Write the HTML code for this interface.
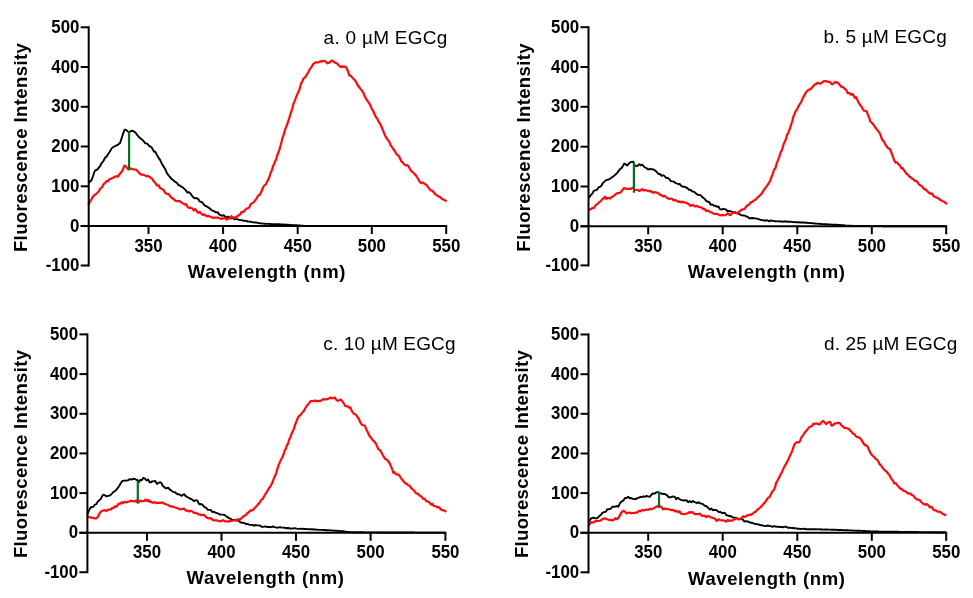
<!DOCTYPE html><html><head><meta charset="utf-8"><style>html,body{margin:0;padding:0;background:#fff;}svg{display:block;filter:blur(0.3px);}text{font-family:"Liberation Sans", sans-serif;}</style></head><body>
<svg width="973" height="598" viewBox="0 0 973 598">
<rect width="973" height="598" fill="#fff"/>
<g><path d="M89.2 182.5 L90.2 181.4 L91.5 180.3 L92.5 177.5 L93.5 174.8 L94.3 172.1 L95.2 170.4 L96.6 170 L98 168.7 L100.1 166.1 L101.3 163.8 L102.6 162 L103.7 160.5 L105.1 157.6 L106.6 156.7 L108.3 153.8 L110.1 151.3 L111.5 148.6 L113 147.2 L114.5 146.5 L115.9 145.6 L117.5 145.1 L118.8 144 L120.1 142.9 L121.2 139.5 L122.2 136.5 L123.1 133.6 L124.4 130 L125.5 129.6 L127.6 131.2 L129.3 132.4 L130.9 131 L132.7 130.8 L134.3 131.8 L136 133.3 L137.3 135.2 L138.7 136.8 L140.2 138.2 L141.9 139.4 L143.6 141.1 L145.2 143.3 L146.9 143.4 L148.5 145.2 L149.8 146.5 L151.3 146.9 L152.7 149.3 L154.1 151.7 L155.4 151.8 L156.9 154.9 L158.5 157.6 L160.2 160.1 L161.9 163.8 L163.6 166.6 L165.2 169 L166.9 173.2 L168.6 175.3 L170.3 177.3 L172 179.3 L173.7 180.6 L175.5 182.2 L177 182.9 L178.3 185 L180 185.6 L181.2 186.6 L182.7 187.4 L184.3 188.9 L185.9 190.4 L187.5 192.7 L189 192.1 L190.5 193.6 L192.1 195.8 L193.6 197.6 L195.1 198.3 L196.6 198.1 L198.1 198.8 L199.6 201.4 L201.1 201.9 L202.6 202.7 L204.1 204.9 L205.6 206 L207.1 206.6 L208.6 207.6 L210.1 208.7 L211.6 210.3 L213.1 210.7 L214.7 211.6 L216.2 212.5 L217.7 212.1 L219.2 214.5 L220.7 215.2 L222.2 215.8 L223.7 215.1 L225.2 216.5 L226.7 217.7 L228.2 216.6 L229.7 217.7 L231.2 218.5 L232.7 217.7 L234.2 219.3 L235.7 219.1 L237.2 219.1 L238.7 219.6 L240.2 220 L241.7 220.1 L243.2 220.7 L244.8 220.6 L246.3 220.9 L247.8 221.5 L249.3 221.6 L250.8 221.7 L252.3 222.2 L253.8 222.4 L255.3 222.5 L256.8 222.6 L258.3 223 L259.8 223.2 L261.3 223.4 L262.8 223.6 L264.2 223.7 L265.5 223.8 L266.8 223.9 L268.4 223.9 L270.4 224 L271.6 224.1 L272.9 224.1 L274.4 224.2 L275.9 224.2 L277.5 224.3 L279.1 224.3 L280.7 224.4 L282.3 224.5 L283.9 224.5 L285.4 224.6 L286.9 224.7 L288.3 224.8 L289.6 224.9 L291 225 L292.4 225.1 L293.8 225.2 L295.2 225.2 L296.7 225.3 L298.3 225.4 L300 225.5 L301.1 225.6 L301.7 225.6 L302.1 225.7 L302.3 225.7 L302.5 225.7 L302.8 225.8 L303.4 225.8 L304.3 225.9 L305.9 225.9 L308 225.9 L311 226 L315 226 L320 226 L320.9 226 L321.8 226 L322.8 226 L323.8 226 L324.9 226 L326 226 L327.2 226 L328.4 226 L329.6 226 L330.9 226 L332.2 226 L333.5 226 L334.9 226 L336.3 226 L337.8 226 L339.2 226 L340.7 226 L342.3 226 L343.8 226 L345.4 226 L347 226 L348.6 226 L350.3 226 L351.9 226 L353.6 226 L355.3 226 L357.1 226 L358.8 226 L360.6 226 L362.3 226 L364.1 226 L365.9 226 L367.7 226 L369.5 226 L371.4 226 L373.2 226 L375 226 L376.9 226 L378.7 226 L380.6 226 L382.4 226 L384.2 226 L386.1 226 L387.9 226 L389.8 226 L391.6 226 L393.4 226 L395.3 226 L397.1 226 L398.9 226 L400.7 226 L402.4 226 L404.2 226 L406 226 L407.7 226 L409.4 226 L411.1 226 L412.8 226 L414.5 226 L416.1 226 L417.7 226 L419.3 226 L420.9 226 L422.4 226 L423.9 226 L425.4 226 L426.9 226 L428.3 226 L429.7 226 L431.1 226 L432.4 226 L433.7 226 L434.9 226 L436.2 226 L437.3 226 L438.5 226 L439.6 226 L440.6 226 L441.6 226 L442.6 226 L443.5 226 L444.4 226 L445.2 226 L446 226" fill="none" stroke="#000" stroke-width="1.9" stroke-linejoin="round"/><path d="M88.3 205.3 L89.7 202.3 L91.5 199.3 L93.3 196.1 L95.2 194.6 L97.1 193 L98.9 191.3 L100.4 188.3 L102.1 187.2 L103.4 184.3 L105 183.1 L106.6 181 L108.1 181.3 L109.5 179 L110.9 178.9 L112.2 178.1 L113.6 177.5 L115 176.5 L116.5 176.4 L117.9 176.6 L119.1 174.7 L121.2 172.3 L122.8 169.8 L124.2 165.9 L125.3 165.7 L126.5 167.1 L127.8 169 L129.2 168.3 L130.9 168.6 L132.9 169.3 L134.4 169.5 L136 169.7 L137.5 171 L139.3 173.1 L141.2 174.6 L142.7 174.7 L144.3 175.1 L146 176.1 L147.7 175.9 L149.3 176.7 L151.1 178.1 L152.5 179.1 L154 181.7 L155.5 183 L156.9 185.4 L158.6 185.4 L160.1 188.1 L161.9 189 L163.5 189.7 L165.1 192.7 L166.9 193.7 L168.6 194.1 L170.3 196.2 L172.1 198.3 L173.8 199.1 L175.3 200.7 L176.9 201.1 L178.3 201 L180 201.2 L181.3 202.5 L182.8 203.2 L184.4 204.3 L185.9 204.1 L187.5 206.8 L189 207.9 L190.5 207.7 L192.1 208.3 L193.6 210.3 L195.1 209 L196.6 211 L198.1 212.9 L199.6 211.8 L201.1 213.5 L202.6 214.8 L204.1 214.4 L205.6 215.5 L207.1 216.3 L208.6 215.8 L210.1 216.8 L211.6 217.3 L213.2 217.9 L214.8 217.6 L216.3 217.7 L217.7 217.5 L219.3 218.1 L220.7 218.9 L222.1 218.6 L223.7 218.2 L225.1 218.1 L226.7 219.6 L228.2 218.7 L229.8 218.2 L231.2 216.2 L232.8 217.7 L234.3 217.3 L235.7 217.6 L237.2 216.3 L238.7 215.1 L240.2 214.3 L241.8 211.7 L243.3 212.1 L244.8 210.4 L246.3 208.6 L247.8 208.4 L249.3 207.3 L250.8 204.1 L252.3 203.1 L253.8 202.1 L255.3 200.3 L256.8 198 L258.3 195.4 L259.8 194.8 L261.3 191.8 L262.8 188 L264.4 185.3 L265.9 184.3 L267.3 181.2 L268.6 179.1 L269.7 175.9 L270.8 172.4 L271.9 170.2 L273.1 165.9 L274.3 163.5 L275.4 160.8 L276.4 158.4 L277.4 155 L278.2 153 L279.2 150.3 L280 147.6 L280.8 144.8 L281.7 141.3 L282.5 137.9 L283.4 135.6 L284.4 132.1 L285.4 128.8 L286.5 126.1 L287.5 123.5 L288.6 120.2 L289.6 116.9 L290.7 113.4 L291.7 110.3 L292.6 107.2 L293.4 103.8 L294.2 102.1 L295.1 99.9 L296.4 96.4 L297.8 93.1 L299.2 90.3 L300.2 86.8 L301.2 83.4 L302.3 81.6 L303.4 78.7 L305.1 77.4 L306.8 74.7 L308.4 72 L310 68.9 L311.5 66.8 L313.2 64.1 L315.1 62.6 L316.5 62.3 L317.9 62.5 L319.3 62 L320.7 61.2 L322.1 61.4 L323.5 60.8 L324.9 61 L326.3 62.3 L327.7 63.4 L329 62.7 L330.4 61.9 L331.8 60.4 L333.5 61.4 L335.2 62.8 L336.9 63.2 L338.3 65.2 L339.7 66.2 L341 67.2 L342.4 66.3 L343.8 67 L345.2 66.6 L346.6 68 L348 71.4 L349.4 75.6 L350.8 75.6 L352.2 77.4 L353.6 78.9 L355 80.5 L356.3 82.3 L357.7 85.2 L359.1 87 L360.5 88.9 L361.9 90.5 L363.3 92.7 L364.7 96.2 L366.1 98.8 L367.5 100.9 L368.9 102.9 L370.3 105.1 L371.7 108.5 L373.1 110.7 L374.5 114 L375.8 116.9 L377.2 118.4 L378.6 121.7 L380.4 124.2 L382.2 128.5 L383.7 132.2 L385.4 136.3 L386.6 138 L388 140.3 L389.4 141.9 L390.8 145.8 L392.1 147 L393.4 149.3 L395.1 151.4 L396.7 154.6 L398.4 155.4 L400.1 158.5 L401.3 161.3 L402.7 162.4 L404.1 164.4 L405.8 165.4 L407.4 165.1 L408.8 166.7 L410 169.1 L411.4 171.2 L412.9 172.1 L414.6 174.1 L416.1 175.6 L417.4 177.8 L418.7 180 L420.1 182.3 L421.4 183.1 L422.7 182.5 L424.1 183.6 L425.5 184.2 L426.8 185.4 L428.2 187.4 L429.5 188.9 L430.8 190.5 L432.1 190.6 L433.5 192 L434.9 193.8 L436.2 194.8 L437.5 195.7 L438.9 196.6 L440.2 197 L441.5 198.6 L443.4 199.5 L445.3 200.4 L446.6 201.2" fill="none" stroke="#ff0a0a" stroke-width="2.2" stroke-linejoin="round"/><line x1="129.1" y1="131.5" x2="129.1" y2="170.5" stroke="#0a6e1e" stroke-width="2.2"/><line x1="88.7" y1="26.3" x2="88.7" y2="266.5" stroke="#000" stroke-width="2"/><line x1="80.7" y1="226" x2="447.2" y2="226" stroke="#000" stroke-width="2"/><line x1="80.7" y1="265.5" x2="88.7" y2="265.5" stroke="#000" stroke-width="2"/><text x="45.7" y="271.1" font-size="18.9" font-weight="bold" textLength="33.7" lengthAdjust="spacingAndGlyphs">-100</text><line x1="80.7" y1="226" x2="88.7" y2="226" stroke="#000" stroke-width="2"/><text x="70" y="231.6" font-size="18.9" font-weight="bold" textLength="9.4" lengthAdjust="spacingAndGlyphs">0</text><line x1="80.7" y1="186.3" x2="88.7" y2="186.3" stroke="#000" stroke-width="2"/><text x="51.3" y="191.9" font-size="18.9" font-weight="bold" textLength="28.1" lengthAdjust="spacingAndGlyphs">100</text><line x1="80.7" y1="146.5" x2="88.7" y2="146.5" stroke="#000" stroke-width="2"/><text x="51.3" y="152.1" font-size="18.9" font-weight="bold" textLength="28.1" lengthAdjust="spacingAndGlyphs">200</text><line x1="80.7" y1="106.8" x2="88.7" y2="106.8" stroke="#000" stroke-width="2"/><text x="51.3" y="112.4" font-size="18.9" font-weight="bold" textLength="28.1" lengthAdjust="spacingAndGlyphs">300</text><line x1="80.7" y1="67" x2="88.7" y2="67" stroke="#000" stroke-width="2"/><text x="51.3" y="72.6" font-size="18.9" font-weight="bold" textLength="28.1" lengthAdjust="spacingAndGlyphs">400</text><line x1="80.7" y1="27.3" x2="88.7" y2="27.3" stroke="#000" stroke-width="2"/><text x="51.3" y="32.9" font-size="18.9" font-weight="bold" textLength="28.1" lengthAdjust="spacingAndGlyphs">500</text><line x1="148.5" y1="226" x2="148.5" y2="234" stroke="#000" stroke-width="2"/><text x="134.5" y="251.6" font-size="18.9" font-weight="bold" textLength="28.1" lengthAdjust="spacingAndGlyphs">350</text><line x1="223.1" y1="226" x2="223.1" y2="234" stroke="#000" stroke-width="2"/><text x="209.1" y="251.6" font-size="18.9" font-weight="bold" textLength="28.1" lengthAdjust="spacingAndGlyphs">400</text><line x1="297.7" y1="226" x2="297.7" y2="234" stroke="#000" stroke-width="2"/><text x="283.7" y="251.6" font-size="18.9" font-weight="bold" textLength="28.1" lengthAdjust="spacingAndGlyphs">450</text><line x1="371.8" y1="226" x2="371.8" y2="234" stroke="#000" stroke-width="2"/><text x="357.8" y="251.6" font-size="18.9" font-weight="bold" textLength="28.1" lengthAdjust="spacingAndGlyphs">500</text><line x1="446.2" y1="226" x2="446.2" y2="234" stroke="#000" stroke-width="2"/><text x="432.2" y="251.6" font-size="18.9" font-weight="bold" textLength="28.1" lengthAdjust="spacingAndGlyphs">550</text><text transform="translate(27.4 252.1) rotate(-90)" x="0" y="0" font-size="18.5" font-weight="bold" textLength="208.9" lengthAdjust="spacing">Fluorescence Intensity</text><text x="187.8" y="277.7" font-size="18.5" font-weight="bold" textLength="157.7" lengthAdjust="spacing">Wavelength (nm)</text><text x="323.6" y="43.9" font-size="19" textLength="123.8" lengthAdjust="spacing">a. 0 µM EGCg</text></g>
<g><path d="M588.8 198 L590.4 195.6 L592.5 193.3 L593.9 190.6 L595.5 190.4 L597 189.7 L598.5 187.4 L600.1 186.9 L601.6 185.3 L603.1 182.8 L604.5 181.6 L606.1 180.1 L607.5 179.8 L609 179.3 L610.6 178.4 L612.1 177.1 L613.5 176.4 L614.8 175.1 L616.1 174.1 L617.4 172.6 L619 170.4 L620.6 168.6 L621.9 167.7 L624.1 163.7 L625.6 164.2 L627.2 165.5 L628.7 163.8 L630.2 162.4 L631.7 161.9 L633.2 161.6 L634.7 165.4 L636.2 166.1 L637.6 165.9 L639.2 164.2 L640.6 165.3 L642.1 164.5 L643.7 166.4 L645.1 167.5 L646.6 168.2 L648.2 169.6 L649.7 168.7 L651.2 169.4 L652.9 169.3 L654.3 169.9 L655.8 171 L657.1 172.3 L658.8 174.2 L660.1 174 L661.7 175.8 L663.3 175.1 L664.8 176.4 L666.3 178.1 L667.9 177.8 L669.3 179.2 L670.7 181 L672.3 181.4 L673.7 181.6 L675.2 182.8 L676.8 183.5 L678.4 184.2 L679.9 184 L681.4 186.1 L682.9 186.7 L684.4 186.6 L685.9 187.5 L687.4 188 L688.9 189.9 L690.5 189.6 L692 191.3 L693.5 191.6 L694.9 192.3 L696.5 193.9 L698 194.9 L699.5 194.9 L700.9 195.3 L702.3 197.2 L703.5 197.8 L704.8 199.1 L706.2 200.9 L707.7 201.8 L709.2 202 L710.7 204.7 L712.3 204.4 L713.8 205.7 L715.4 205.7 L716.9 206.8 L718.5 206.5 L720 209.2 L721.5 209.6 L723.1 208.8 L724.7 209.2 L726.1 209.5 L727.6 211.4 L729.1 210.8 L730.6 211.4 L732.1 211.6 L733.5 212.2 L734.9 212.1 L736.4 213.2 L737.9 213 L739.5 214.3 L740.8 214.9 L742 215.4 L743.4 215.5 L744.8 215.6 L746.2 216.6 L747.7 216.7 L749.3 218.3 L750.7 218.2 L752.2 218 L753.8 218.2 L755.3 218.4 L756.9 218.6 L758.5 219.1 L760.1 219.7 L761.7 220 L763.2 220.2 L764.8 220.9 L766.3 220.2 L767.9 220.6 L769.4 221.5 L770.9 220.3 L772.5 220.8 L774 221.1 L775.5 221.2 L777.1 221.4 L778.6 221.3 L780.1 221.5 L781.7 221.5 L783.2 221.7 L784.8 221.3 L786.3 221.5 L787.8 221.8 L789.4 221.7 L790.9 221.7 L792.5 222.1 L794.1 222 L795.6 222.2 L797.2 222.3 L798.7 222.3 L800.3 222.5 L801.9 222.5 L803.5 222.4 L805.1 222.7 L806.6 222.8 L808.2 222.9 L809.6 223 L811 223.1 L812.6 223.2 L813.8 223.4 L815 223.5 L816.3 223.6 L817.9 223.7 L820 223.9 L821.2 224 L822.5 224.1 L823.9 224.1 L825.3 224.2 L826.9 224.3 L828.5 224.4 L830.1 224.5 L831.8 224.6 L833.5 224.7 L835.2 224.7 L836.8 224.8 L838.4 224.9 L840 225 L841.4 225.1 L842.4 225.2 L843.3 225.3 L844 225.3 L844.7 225.4 L845.4 225.5 L846.4 225.6 L847.5 225.7 L849 225.7 L850.9 225.8 L853.3 225.9 L856.3 225.9 L860 226 L861 226 L862 226 L863.1 226 L864.2 226 L865.4 226.1 L866.7 226.1 L868 226.1 L869.4 226.1 L870.8 226.1 L872.2 226.1 L873.7 226.1 L875.3 226.1 L876.9 226.1 L878.5 226.1 L880.1 226.1 L881.8 226.1 L883.5 226.2 L885.2 226.2 L887 226.2 L888.7 226.2 L890.5 226.2 L892.3 226.2 L894.1 226.2 L896 226.2 L897.8 226.2 L899.6 226.2 L901.5 226.2 L903.3 226.2 L905.2 226.2 L907 226.2 L908.8 226.2 L910.7 226.2 L912.5 226.2 L914.3 226.2 L916 226.2 L917.8 226.2 L919.5 226.2 L921.3 226.2 L922.9 226.3 L924.6 226.3 L926.2 226.3 L927.8 226.3 L929.4 226.3 L930.9 226.3 L932.4 226.3 L933.8 226.3 L935.2 226.3 L936.5 226.3 L937.8 226.3 L939.1 226.3 L940.2 226.3 L941.4 226.3 L942.4 226.3 L943.4 226.3 L944.3 226.3 L945.2 226.3 L946 226.3" fill="none" stroke="#000" stroke-width="1.9" stroke-linejoin="round"/><path d="M588 210 L589.2 209.8 L590.8 209.1 L592.5 208 L594 208 L595.4 205.5 L597 204.1 L598.3 203.4 L599.6 201.8 L601 201.3 L602.3 198.8 L603.6 198.7 L604.9 196.7 L606.3 198.8 L607.6 197.8 L608.9 198.2 L610.3 198.5 L611.6 197 L612.9 196.4 L614.5 195.3 L616 193.9 L617.4 193.1 L619.3 193 L621.1 191.9 L622.5 189.9 L624.1 188.1 L625.5 188.7 L627.1 188.9 L628.7 188.8 L630.2 189 L631.7 188.2 L633.2 187.6 L634.6 189.6 L636 190 L637.7 189.9 L639 191 L640.6 190.4 L642.2 189 L643.7 190.6 L645.2 189.9 L646.8 190.6 L648.3 190.9 L649.7 191.4 L651.2 191.1 L652.7 192.7 L654.2 192.3 L655.8 192.2 L657.3 192.9 L658.8 193.5 L660.2 194.9 L661.7 195.4 L663.3 196.5 L664.7 195.9 L666.2 197.3 L667.7 198.3 L669.3 199 L670.8 198.5 L672.3 199.1 L673.7 200.5 L675.2 199.9 L676.7 200.9 L678.3 201.9 L679.7 201.4 L681.3 202.4 L682.8 201.7 L684.4 202.5 L686 202.7 L687.4 203.3 L689 204.4 L690.6 205.8 L692.1 204.8 L693.6 205.4 L694.9 206.5 L696.7 205.9 L698.3 206.8 L700 207.2 L701.5 207.5 L703 208.9 L704.6 208.8 L706.2 211 L707.7 210.5 L709.3 211.6 L710.8 212.2 L712.3 212.8 L713.9 213.9 L715.5 213.8 L717 213.8 L718.5 214.6 L720.2 215.5 L721.7 214.9 L723.4 215.1 L724.8 215.4 L726.3 214.6 L727.9 213.3 L729.6 215.1 L731 214.7 L732.5 212.2 L734.1 213 L735.6 213 L737 212.9 L738.6 212.2 L740.2 210.9 L741.7 209.7 L743.2 209.4 L744.7 208.8 L746.3 206.4 L747.8 205.1 L749.3 204.4 L750.9 202.1 L752.5 201.8 L754 200.4 L755.5 199.7 L757.2 197.8 L758.8 196.4 L760.4 195 L762.1 193 L763.7 190.1 L765.4 187.8 L767.1 185.6 L768.8 183.1 L770.3 180.6 L771.7 176.4 L772.9 173.7 L774 169.7 L775.3 168.7 L776.7 163.2 L777.8 160.6 L779.1 157.4 L780.5 152.8 L781.7 150.5 L782.8 147.1 L783.9 143.2 L784.9 141.5 L785.9 139.2 L787 134.8 L788 133.7 L789.1 130.7 L790.1 128 L791.1 124.6 L792.2 121.5 L793.2 117.2 L794.2 114.8 L795.6 111.2 L797 109.5 L798.4 106.4 L799.8 104 L801.1 102.1 L802.6 98.6 L804.2 95.6 L806 92.4 L807.6 90.5 L809.1 89.6 L810.4 89.1 L811.8 87.8 L813.2 86.4 L814.6 84.5 L816 84.1 L817.4 82.9 L818.7 83.1 L820.1 83.9 L821.5 82.8 L822.9 81.8 L824.3 81.1 L825.7 81.1 L827.1 81.7 L828.5 81.9 L829.9 81.9 L831.4 83.9 L832.7 84.3 L834.4 82.4 L836 82.2 L837.3 82.3 L838.8 83.6 L840.2 85.5 L841.6 86.9 L842.9 86.8 L844.4 88.6 L846 89.6 L847.8 93.2 L849.4 93.1 L850.9 94.7 L852.2 94 L853.6 95.5 L855 97.9 L856.3 97.4 L857.7 100.7 L859.1 103.4 L860.4 105.4 L861.9 107.2 L863.6 110.5 L865.3 110.8 L866.9 111.7 L868.1 115.7 L869.1 117.3 L870.3 121.6 L871.8 122.7 L873.6 124.9 L875.3 127.5 L877.1 129.6 L878.8 131.8 L880.3 134.3 L881.6 138.4 L882.7 140.4 L883.9 141.4 L885.3 144.4 L886.7 146.3 L888.2 148.4 L889.9 149 L891.4 152.5 L892.8 156.4 L894 159.7 L895.4 162.6 L896.9 162.2 L898.5 164.4 L900.1 165.7 L901.4 168.3 L902.7 168.1 L904.1 170.3 L905.4 172.1 L906.7 174.1 L908.1 174.7 L909.5 176.9 L910.8 177.1 L912.1 178.7 L913.4 179.3 L914.8 180.6 L916.1 181.1 L917.4 181.7 L918.8 184.4 L920.2 185.2 L921.5 185.9 L922.8 187.5 L924.1 189.1 L925.5 189.2 L926.8 190.7 L928.1 192.1 L929.4 193.1 L930.8 193.6 L932.2 193.6 L933.8 196.5 L935.4 196.9 L937.1 197.8 L938.9 198.7 L940.5 200.1 L942.4 201 L944.2 201.8 L945.8 203.1 L946.9 204.2" fill="none" stroke="#ff0a0a" stroke-width="2.2" stroke-linejoin="round"/><line x1="633.9" y1="162.6" x2="633.9" y2="192.7" stroke="#0a6e1e" stroke-width="2.2"/><line x1="588.5" y1="26.2" x2="588.5" y2="266.4" stroke="#000" stroke-width="2"/><line x1="580.5" y1="226.3" x2="947.2" y2="226.3" stroke="#000" stroke-width="2"/><line x1="580.5" y1="265.4" x2="588.5" y2="265.4" stroke="#000" stroke-width="2"/><text x="545.5" y="271" font-size="18.9" font-weight="bold" textLength="33.7" lengthAdjust="spacingAndGlyphs">-100</text><line x1="580.5" y1="226.3" x2="588.5" y2="226.3" stroke="#000" stroke-width="2"/><text x="569.8" y="231.9" font-size="18.9" font-weight="bold" textLength="9.4" lengthAdjust="spacingAndGlyphs">0</text><line x1="580.5" y1="186.5" x2="588.5" y2="186.5" stroke="#000" stroke-width="2"/><text x="551.1" y="192.1" font-size="18.9" font-weight="bold" textLength="28.1" lengthAdjust="spacingAndGlyphs">100</text><line x1="580.5" y1="146.7" x2="588.5" y2="146.7" stroke="#000" stroke-width="2"/><text x="551.1" y="152.3" font-size="18.9" font-weight="bold" textLength="28.1" lengthAdjust="spacingAndGlyphs">200</text><line x1="580.5" y1="106.8" x2="588.5" y2="106.8" stroke="#000" stroke-width="2"/><text x="551.1" y="112.4" font-size="18.9" font-weight="bold" textLength="28.1" lengthAdjust="spacingAndGlyphs">300</text><line x1="580.5" y1="67" x2="588.5" y2="67" stroke="#000" stroke-width="2"/><text x="551.1" y="72.6" font-size="18.9" font-weight="bold" textLength="28.1" lengthAdjust="spacingAndGlyphs">400</text><line x1="580.5" y1="27.2" x2="588.5" y2="27.2" stroke="#000" stroke-width="2"/><text x="551.1" y="32.8" font-size="18.9" font-weight="bold" textLength="28.1" lengthAdjust="spacingAndGlyphs">500</text><line x1="648.2" y1="226.3" x2="648.2" y2="234.3" stroke="#000" stroke-width="2"/><text x="634.2" y="251.9" font-size="18.9" font-weight="bold" textLength="28.1" lengthAdjust="spacingAndGlyphs">350</text><line x1="722.7" y1="226.3" x2="722.7" y2="234.3" stroke="#000" stroke-width="2"/><text x="708.7" y="251.9" font-size="18.9" font-weight="bold" textLength="28.1" lengthAdjust="spacingAndGlyphs">400</text><line x1="797.3" y1="226.3" x2="797.3" y2="234.3" stroke="#000" stroke-width="2"/><text x="783.3" y="251.9" font-size="18.9" font-weight="bold" textLength="28.1" lengthAdjust="spacingAndGlyphs">450</text><line x1="871.8" y1="226.3" x2="871.8" y2="234.3" stroke="#000" stroke-width="2"/><text x="857.8" y="251.9" font-size="18.9" font-weight="bold" textLength="28.1" lengthAdjust="spacingAndGlyphs">500</text><line x1="946.2" y1="226.3" x2="946.2" y2="234.3" stroke="#000" stroke-width="2"/><text x="932.2" y="251.9" font-size="18.9" font-weight="bold" textLength="28.1" lengthAdjust="spacingAndGlyphs">550</text><text transform="translate(530 251.7) rotate(-90)" x="0" y="0" font-size="18.5" font-weight="bold" textLength="208.2" lengthAdjust="spacing">Fluorescence Intensity</text><text x="687.7" y="277.6" font-size="18.5" font-weight="bold" textLength="157.2" lengthAdjust="spacing">Wavelength (nm)</text><text x="823.6" y="43.4" font-size="19" textLength="123.3" lengthAdjust="spacing">b. 5 µM EGCg</text></g>
<g><path d="M87.3 514.9 L88.4 511.7 L90 508.5 L91.4 506.9 L93.1 507 L94.7 504.8 L96.3 504.2 L97.9 501.4 L99.4 500.3 L100.8 498.9 L102 496.3 L103.4 494.6 L104.9 495.3 L106.5 496.5 L108.1 495.8 L109.7 495.6 L111.2 494.5 L112.8 492.5 L114.3 491.4 L115.9 490.2 L117.4 488.5 L119 486.3 L120.5 483.6 L122.1 481.2 L123.6 480.7 L125.2 480.6 L126.8 480.5 L128.1 480.3 L129.5 479.1 L130.9 479.5 L132.2 479.4 L133.6 478.7 L134.9 479.2 L136.2 479.7 L137.5 480 L138.8 482.2 L140.2 480 L141.7 480.3 L143.3 477.9 L144.9 478.6 L146.5 480.5 L148.1 479.5 L149.6 482.2 L151 482.3 L152.3 481.2 L153.6 481.4 L155.3 481 L156.9 483.9 L158.6 482.8 L160.3 482.1 L161.5 483.2 L162.8 486 L164.3 487.1 L165.5 488.2 L166.8 488.2 L168.1 487.6 L169.6 489.4 L171.2 490.4 L172.9 491.9 L174.7 492.1 L176.3 493.4 L177.7 494.3 L179.1 494.3 L180.4 495.2 L181.7 495.9 L183 494.6 L184.3 494.2 L185.7 496.1 L187 496.9 L188.3 497.5 L189.7 498.5 L191.1 498.9 L192.4 499.7 L193.8 501.1 L195.2 500.4 L196.6 500.2 L197.7 501 L198.8 503.6 L200 504.4 L201.3 504 L202.9 505.3 L204.6 507.2 L206.2 507.8 L207.7 509.8 L209.2 509.9 L210.8 510 L212.3 512 L213.8 511.6 L215.4 512.7 L216.9 513.2 L218.5 513.6 L220 514.6 L221.5 514.6 L223.1 514.6 L224.7 515.1 L226.1 516.2 L227.6 517.1 L229.1 518.1 L230.6 518.8 L232.1 519.6 L233.5 519.9 L234.9 519.9 L236.4 520.4 L237.9 520.1 L239.5 521.7 L240.8 522.4 L242 522.8 L243.4 522.8 L244.8 523.2 L246.2 524.2 L247.7 524 L249.3 524.7 L250.7 524.9 L252.2 524.9 L253.8 525.7 L255.3 525 L256.9 525.4 L258.5 525.4 L260.1 525.6 L261.7 526.7 L263.2 526.9 L264.8 526.4 L266.3 526.7 L267.9 527 L269.4 527 L270.9 527.2 L272.5 526.5 L274 526.8 L275.5 527.3 L277.1 527.7 L278.6 527.4 L280.1 527.3 L281.7 527.6 L283.2 527.6 L284.8 527.7 L286.3 528.3 L287.8 528 L289.2 528.2 L290.6 528.6 L291.9 528.5 L293.4 528.4 L295 528.3 L296.7 528.6 L298.7 528.9 L300 528.8 L301.3 528.9 L302.7 528.8 L304.2 529 L305.7 529 L307.3 529.1 L308.9 529.3 L310.5 529.1 L312.1 529.3 L313.7 529.5 L315.4 529.5 L316.9 529.6 L318.5 529.8 L320 529.9 L321.6 529.9 L323.1 530 L324.7 530 L326.2 530.2 L327.8 530.3 L329.3 530.3 L330.8 530.4 L332.4 530.5 L333.9 530.6 L335.4 530.7 L336.9 530.8 L338.5 530.9 L340 531 L341.4 531.1 L342.4 531.2 L343.3 531.3 L344 531.4 L344.7 531.5 L345.5 531.7 L346.4 531.8 L347.6 531.9 L349.1 532 L350.9 532.1 L353.3 532.2 L356.3 532.2 L360 532.3 L361 532.3 L362 532.3 L363.1 532.3 L364.2 532.4 L365.4 532.4 L366.6 532.4 L367.9 532.4 L369.3 532.4 L370.7 532.4 L372.1 532.4 L373.6 532.4 L375.1 532.4 L376.7 532.4 L378.3 532.5 L379.9 532.5 L381.5 532.5 L383.2 532.5 L384.9 532.5 L386.7 532.5 L388.4 532.5 L390.2 532.5 L392 532.5 L393.8 532.5 L395.6 532.5 L397.4 532.5 L399.2 532.5 L401 532.5 L402.8 532.5 L404.7 532.5 L406.5 532.5 L408.3 532.5 L410.1 532.5 L411.9 532.5 L413.6 532.5 L415.4 532.6 L417.1 532.6 L418.9 532.6 L420.6 532.6 L422.2 532.6 L423.9 532.6 L425.5 532.6 L427 532.6 L428.6 532.6 L430.1 532.6 L431.5 532.6 L433 532.6 L434.3 532.6 L435.7 532.6 L436.9 532.6 L438.1 532.6 L439.3 532.6 L440.4 532.6 L441.5 532.6 L442.4 532.6 L443.4 532.6 L444.2 532.6 L445 532.6" fill="none" stroke="#000" stroke-width="1.9" stroke-linejoin="round"/><path d="M86.7 517.5 L87.6 516.8 L89 517.2 L90.5 517.3 L92 517.9 L93.4 517.9 L94.8 518.5 L96.1 518.3 L97.4 517.5 L98.8 515.1 L100 512.6 L101.4 511.3 L102.6 510.7 L104 510.3 L105.3 510.1 L106.7 511.1 L108.1 509.5 L109.5 509.6 L110.8 509.4 L112.1 508.1 L113.5 508 L114.7 506.4 L116.1 506.8 L117.4 505.5 L118.7 503.5 L120.1 503.9 L121.5 502.3 L122.8 503.2 L124.1 501.9 L125.5 502.2 L126.8 502.3 L128.1 501.6 L129.5 501.5 L130.9 500.7 L132.2 501.2 L133.5 501 L134.8 501.6 L136.2 500.4 L137.5 502.7 L138.8 502 L140.2 500.6 L141.6 501.2 L142.9 501.1 L144.2 501.1 L145.6 499.6 L146.9 500.9 L148.2 500 L149.5 501.9 L150.9 501.4 L152.3 502.7 L153.6 502.6 L154.9 502.2 L156.2 503.1 L157.6 502.7 L158.9 502.9 L160.2 502.9 L161.5 502.6 L162.9 502.6 L164.3 503.7 L165.9 504.2 L167.6 504.7 L169.3 506 L171 506.4 L172.7 506.6 L174.3 507.3 L175.9 507.7 L177.6 508.3 L179.3 509 L180.9 509.4 L182.6 508.8 L184.3 508.7 L186 510.7 L187.7 510.5 L189.3 511.5 L191 510.6 L192.8 512 L194.6 513 L196.3 512.9 L197.7 513.9 L198.9 514.4 L200 514.4 L201.3 515.2 L202.9 514.7 L204.6 515.3 L206.2 517.2 L207.7 518.1 L209.2 518.3 L210.8 518.1 L212.3 519.7 L213.8 520.2 L215.4 520.5 L216.9 520.3 L218.5 521 L220 521.4 L221.5 520.8 L223.1 520.2 L224.7 521.4 L226.1 521.5 L227.6 521.2 L229.1 521.6 L230.6 520.7 L232.1 520.8 L233.6 520.4 L235.1 520.5 L236.6 520.7 L238.1 519.1 L239.5 519.8 L241.1 518.6 L242.6 517.1 L244.1 515.8 L245.6 515.4 L247.1 513.3 L248.7 512.3 L250.2 510.7 L251.8 510.4 L253.4 509.6 L254.9 507.8 L256.5 506.3 L258 504.4 L259.6 502.8 L261.1 499.9 L262.7 499.1 L264.1 496.3 L265.9 493.3 L267.5 490.9 L269.1 488 L270.9 485.6 L272.6 482.1 L274 477.9 L275.3 475.5 L276.3 472.6 L277.6 468.1 L279 464 L280.1 461.8 L281.2 459.3 L282.4 457.2 L283.6 454.1 L284.7 450.4 L285.9 448.8 L287 445 L288.1 443.5 L289.2 439.5 L290.4 437 L291.5 434.1 L292.6 431.4 L293.7 429.3 L294.8 425.8 L295.9 422.6 L297.1 419.8 L298.4 416.7 L299.7 415.7 L301.1 414.2 L302.4 412.4 L304.1 410.6 L305.8 407.3 L307.6 404.9 L309.1 403.1 L310.7 401 L312.3 401.2 L313.7 400.8 L315.3 400.6 L316.8 401.1 L318.2 400.8 L320 401.1 L321.9 400 L323.4 399.1 L325 399.3 L326.5 399.4 L328.4 398.8 L330.2 397.6 L331.7 398.3 L333.3 398.2 L334.7 397.4 L336.3 399.8 L337.8 400.8 L339.3 400.3 L340.8 399.6 L342.2 401.1 L343.8 403.5 L345.4 406.2 L347.3 406.2 L349 407.6 L350.3 407.4 L351.5 410.2 L352.8 412.4 L354.2 414 L355.8 414.5 L357.3 416.7 L358.9 419 L360.4 422.5 L361.8 424.7 L363.3 425.2 L364.9 425.7 L366.3 429.4 L367.8 432.2 L369.4 435.7 L370.9 437.5 L372.4 439.8 L373.9 441.3 L375.5 442.9 L377 446.1 L378.4 449.2 L379.9 449.9 L381.3 452.2 L382.6 454.7 L384 457.2 L385.4 459 L386.9 459.8 L388.5 461.4 L390 464.1 L391.7 468 L393.4 472.8 L394.6 472.1 L395.9 474.1 L397.3 474.7 L398.7 474.5 L400 476.5 L401.4 478.8 L402.8 480.3 L404.1 482 L405.4 483.5 L406.8 483.7 L408.1 485.3 L409.4 485.8 L410.7 487.1 L412.1 489.1 L413.5 489.9 L414.8 491.7 L416.1 493.4 L417.4 493.5 L418.7 494.4 L420.1 495.9 L421.6 496.6 L423.1 498.8 L424.7 498.9 L426.2 501.1 L427.7 501.5 L429.2 502.2 L430.7 504.4 L432.2 503.7 L433.8 506 L435.5 506.2 L437.2 507.4 L438.9 507 L440.4 509 L442.1 510.2 L443.8 510.3 L445.2 511.1 L446.2 511.8" fill="none" stroke="#ff0a0a" stroke-width="2.2" stroke-linejoin="round"/><line x1="137.8" y1="480.7" x2="137.8" y2="502.8" stroke="#0a6e1e" stroke-width="2.2"/><line x1="87.4" y1="333.4" x2="87.4" y2="573.2" stroke="#000" stroke-width="2"/><line x1="79.4" y1="532.8" x2="446.4" y2="532.8" stroke="#000" stroke-width="2"/><line x1="79.4" y1="572.2" x2="87.4" y2="572.2" stroke="#000" stroke-width="2"/><text x="44.4" y="577.8" font-size="18.9" font-weight="bold" textLength="33.7" lengthAdjust="spacingAndGlyphs">-100</text><line x1="79.4" y1="532.8" x2="87.4" y2="532.8" stroke="#000" stroke-width="2"/><text x="68.7" y="538.4" font-size="18.9" font-weight="bold" textLength="9.4" lengthAdjust="spacingAndGlyphs">0</text><line x1="79.4" y1="493.1" x2="87.4" y2="493.1" stroke="#000" stroke-width="2"/><text x="50" y="498.7" font-size="18.9" font-weight="bold" textLength="28.1" lengthAdjust="spacingAndGlyphs">100</text><line x1="79.4" y1="453.4" x2="87.4" y2="453.4" stroke="#000" stroke-width="2"/><text x="50" y="459" font-size="18.9" font-weight="bold" textLength="28.1" lengthAdjust="spacingAndGlyphs">200</text><line x1="79.4" y1="413.8" x2="87.4" y2="413.8" stroke="#000" stroke-width="2"/><text x="50" y="419.4" font-size="18.9" font-weight="bold" textLength="28.1" lengthAdjust="spacingAndGlyphs">300</text><line x1="79.4" y1="374.1" x2="87.4" y2="374.1" stroke="#000" stroke-width="2"/><text x="50" y="379.7" font-size="18.9" font-weight="bold" textLength="28.1" lengthAdjust="spacingAndGlyphs">400</text><line x1="79.4" y1="334.4" x2="87.4" y2="334.4" stroke="#000" stroke-width="2"/><text x="50" y="340" font-size="18.9" font-weight="bold" textLength="28.1" lengthAdjust="spacingAndGlyphs">500</text><line x1="147" y1="532.8" x2="147" y2="540.8" stroke="#000" stroke-width="2"/><text x="133" y="558.4" font-size="18.9" font-weight="bold" textLength="28.1" lengthAdjust="spacingAndGlyphs">350</text><line x1="221.5" y1="532.8" x2="221.5" y2="540.8" stroke="#000" stroke-width="2"/><text x="207.5" y="558.4" font-size="18.9" font-weight="bold" textLength="28.1" lengthAdjust="spacingAndGlyphs">400</text><line x1="296" y1="532.8" x2="296" y2="540.8" stroke="#000" stroke-width="2"/><text x="282" y="558.4" font-size="18.9" font-weight="bold" textLength="28.1" lengthAdjust="spacingAndGlyphs">450</text><line x1="370.6" y1="532.8" x2="370.6" y2="540.8" stroke="#000" stroke-width="2"/><text x="356.6" y="558.4" font-size="18.9" font-weight="bold" textLength="28.1" lengthAdjust="spacingAndGlyphs">500</text><line x1="445.4" y1="532.8" x2="445.4" y2="540.8" stroke="#000" stroke-width="2"/><text x="431.4" y="558.4" font-size="18.9" font-weight="bold" textLength="28.1" lengthAdjust="spacingAndGlyphs">550</text><text transform="translate(27.1 558.1) rotate(-90)" x="0" y="0" font-size="18.5" font-weight="bold" textLength="208.2" lengthAdjust="spacing">Fluorescence Intensity</text><text x="186.6" y="584.4" font-size="18.5" font-weight="bold" textLength="157.4" lengthAdjust="spacing">Wavelength (nm)</text><text x="323.3" y="350" font-size="19" textLength="132.3" lengthAdjust="spacing">c. 10 µM EGCg</text></g>
<g><path d="M588.7 520.6 L589.6 520.8 L591.2 518.3 L592.5 517.8 L594.2 517.8 L595.9 518.4 L597.3 518.1 L599.2 516.2 L601 514.8 L602.6 512.6 L604.3 512.1 L606 511.6 L607.5 509.1 L609.1 509.2 L610.9 508.7 L612.3 506.7 L613.9 506.7 L615.5 506.6 L617 506 L618.3 506.7 L620.2 502.8 L622 501.2 L623.4 500.6 L625 498 L626.6 498 L628.2 496.7 L629.7 498.3 L631.3 498 L632.8 498.8 L634.3 499.1 L635.8 499.1 L637.3 498.1 L638.9 497.7 L640.5 496.9 L641.9 497.1 L643.5 496.3 L645.1 496.9 L646.6 495.8 L647.9 496.3 L649.7 496.9 L651.2 495 L652.8 493.4 L654.3 493.8 L655.9 492.7 L657.5 492.1 L659 492.5 L660.7 493.5 L662.2 493.7 L663.9 494 L665.4 494.3 L666.9 495.1 L668.5 497.3 L670.1 497.3 L671.7 497 L673.2 496.4 L674.8 496.8 L676.3 499.2 L677.8 497.7 L679.3 499 L680.8 499.8 L682.4 500.2 L683.8 500.5 L685.2 500.1 L686.7 500.5 L688.2 502.2 L689.8 501.1 L691.3 502.2 L692.9 501 L694.5 502.1 L696.1 502.6 L697.5 503.2 L698.5 502.2 L700 503.1 L701.3 503.7 L703 504.1 L704.7 505.8 L706.2 506 L708.1 507.8 L709.9 509.6 L711.3 508.5 L712.8 510.2 L714.4 509.9 L716 510 L717.5 510.9 L718.9 512 L720.5 511.9 L722.2 513.4 L723.5 512.6 L725 513.1 L726.5 515.4 L728 515.5 L729.5 516.4 L730.8 515.9 L732.4 517.4 L733.7 517.4 L735.1 518 L737 518.2 L738.2 519.3 L739.6 518.8 L741.2 519.2 L742.8 519.5 L744.4 521.6 L746.1 521.1 L747.7 521.5 L749.3 522.1 L750.8 522.8 L752.4 522.8 L753.9 523.7 L755.5 523.9 L757.1 524.2 L758.6 524.4 L760.2 525.2 L761.7 525.2 L763.2 525.7 L764.8 525.9 L766.3 526.1 L767.9 525.3 L769.4 526.1 L770.9 526.1 L772.5 526.8 L774 526.1 L775.5 526.5 L777.1 526.7 L778.6 526.7 L780.1 527.2 L781.7 526.8 L783.2 527.3 L784.8 526.7 L786.3 526.7 L787.8 527.7 L789.4 527.6 L790.9 527.9 L792.5 528 L794.1 528.3 L795.6 528.2 L797.2 528.7 L798.7 528.6 L800.3 529 L801.9 528.9 L803.5 528.8 L805.1 529 L806.6 529.3 L808.2 529.2 L809.6 529.2 L811 529.3 L812.6 529.3 L813.8 529.3 L815 529.3 L816.3 529.3 L817.9 529.4 L820 529.3 L821.2 529.5 L822.5 529.5 L823.9 529.6 L825.3 529.5 L826.9 529.5 L828.5 529.6 L830.1 529.6 L831.8 529.7 L833.5 529.8 L835.2 529.8 L836.8 529.9 L838.4 530 L840 530 L841.5 530 L843.1 530.1 L844.6 530.2 L846.2 530.2 L847.7 530.3 L849.2 530.4 L850.8 530.4 L852.3 530.5 L853.8 530.6 L855.4 530.6 L856.9 530.7 L858.5 530.7 L860 530.8 L861.4 530.9 L862.6 530.9 L863.7 531 L864.6 531 L865.6 531.1 L866.6 531.2 L867.7 531.2 L869 531.3 L870.5 531.4 L872.2 531.4 L874.4 531.5 L877 531.5 L880 531.6 L881 531.6 L882.1 531.6 L883.3 531.7 L884.5 531.7 L885.8 531.7 L887.2 531.7 L888.6 531.7 L890.1 531.7 L891.6 531.8 L893.2 531.8 L894.8 531.8 L896.5 531.8 L898.2 531.8 L899.9 531.9 L901.6 531.9 L903.4 531.9 L905.2 531.9 L907 531.9 L908.8 531.9 L910.6 532 L912.4 532 L914.2 532 L916.1 532 L917.9 532 L919.7 532.1 L921.4 532.1 L923.2 532.1 L924.9 532.1 L926.6 532.1 L928.3 532.1 L929.9 532.1 L931.5 532.2 L933.1 532.2 L934.6 532.2 L936 532.2 L937.4 532.2 L938.7 532.2 L940 532.2 L941.2 532.3 L942.3 532.3 L943.4 532.3 L944.3 532.3 L945.2 532.3 L946 532.3" fill="none" stroke="#000" stroke-width="1.9" stroke-linejoin="round"/><path d="M588.1 526.8 L589.3 524.6 L591.2 522 L592.5 522.4 L594.1 522.3 L595.7 520.8 L597.3 521 L598.8 520.9 L600.4 520.7 L601.9 519.5 L603.5 518.6 L605 518.3 L606.5 518.9 L608 519.5 L609.7 520.1 L611.1 519.8 L612.6 520.5 L614.2 519.4 L615.7 518.2 L617.1 519.1 L618.3 518.1 L620.3 514.6 L622 511.6 L623.4 510.8 L625 511.7 L626.6 513.4 L628.2 512.8 L629.7 512.5 L631.3 513.2 L632.8 513 L634.3 512.9 L635.8 512.6 L637.4 512.5 L638.9 510.8 L640.5 511.3 L642.1 509.9 L643.6 510.5 L645.2 509.9 L646.7 509.6 L648.2 509.7 L649.8 508.9 L651.3 509.3 L652.8 508.8 L654.4 507.9 L656 506.9 L657.6 506.3 L659 506.2 L660.5 506.6 L661.7 507.2 L663 509.4 L664.3 508.6 L665.6 509.2 L667 508.7 L668.6 509.2 L670.3 509.7 L672 510.3 L673.7 509.9 L675.3 511.6 L677 510.9 L678.3 512.4 L679.6 511.4 L680.9 513.4 L682.4 514.1 L683.7 514 L685.2 514 L686.7 513.5 L688.2 513.2 L689.8 512 L691.3 512.7 L692.9 512.1 L694.5 514.1 L696.1 514.2 L697.5 514.2 L698.5 514 L700 513.6 L701.2 515.3 L702.8 516 L704.5 515.7 L706.2 517.1 L707.7 516 L709.3 516.3 L710.8 517.5 L712.3 517.7 L713.8 518.3 L715.4 519.1 L716.9 521 L718.5 519.3 L720.1 520 L721.6 520.3 L723.2 520.3 L724.7 521 L726.2 521.6 L727.8 520 L729.3 520.9 L730.8 520.6 L732.3 520.7 L733.9 519.4 L735.4 518.9 L737 518.2 L738.6 519.4 L740.1 518.7 L741.7 518.2 L743.2 516.3 L744.7 516.9 L746.3 516.1 L747.8 515.1 L749.3 514.7 L750.8 514.8 L752.4 513.8 L753.9 512.6 L755.5 511.8 L757.1 509.9 L758.6 509 L760.2 507.5 L761.7 506.2 L763.2 504.2 L764.8 502.4 L766.3 500.5 L767.8 498.1 L769.4 497.3 L771.2 493.7 L772.7 491 L774 489.9 L775.2 486.9 L776 483 L777 481.8 L778.2 479.1 L779.4 476.9 L780.7 474.3 L782.1 471.8 L783.4 468.6 L785.1 465.4 L786.7 462.6 L788.4 459.4 L790.1 455.2 L791.5 452.5 L792.7 449.6 L793.6 446.6 L794.7 444 L795.9 442.9 L797.4 442 L798.8 442.5 L800.1 440.8 L801.4 437.4 L802.8 435.7 L804.3 433.2 L805.9 431.3 L807.5 429.4 L809.1 427.2 L810.6 426.6 L812.1 425.7 L813.5 423.5 L814.9 424 L816.2 423.5 L817.6 423.7 L819 424.5 L820.2 424.1 L821.5 422.2 L822.8 421 L824.5 422.2 L826.2 424.1 L827.6 422.8 L828.9 422.1 L830.1 421.9 L831.5 425.7 L832.8 425.5 L834.2 423.6 L835.6 423.5 L837 423.1 L838.3 422.9 L839.6 423 L841.2 425 L842.9 426.6 L844.4 427.8 L846 427.9 L847.6 428.6 L849 428.9 L850.3 430.6 L851.6 431.8 L852.9 433.5 L854.3 434 L855.6 436 L856.9 437 L858.3 437.3 L859.6 437.6 L860.9 439.1 L862.3 441.2 L863.6 443.5 L865 445.2 L866.3 445.4 L867.7 446.7 L869 449.9 L870.4 452.8 L871.7 454.7 L873 456.1 L874.3 457.2 L875.7 458.9 L876.9 459.4 L878.3 461.5 L879.6 464.3 L881 465.2 L882.4 467.6 L883.8 469.3 L885.2 470.6 L886.4 471.3 L888 473.5 L889.4 475 L891 478.2 L892.9 480.6 L894.3 483.4 L895.9 483.4 L897.6 485.7 L899 487 L900.4 488.8 L901.9 489.1 L903.4 490.8 L905 491 L906.7 492.4 L908.3 493.6 L909.9 493.2 L911.7 494.9 L913.4 495.6 L915.1 498 L916.5 499.2 L918 499.6 L919.5 500 L921 501.8 L922.5 503.2 L924 504.1 L925.5 504.8 L926.9 504.1 L928.5 505.5 L929.9 507.4 L931.5 506.7 L932.8 508.8 L934.2 510.1 L935.7 510.4 L937.4 511.6 L938.8 511.6 L940.4 512 L942.2 513.5 L943.8 514.3 L945.2 515.1 L946.2 515.6" fill="none" stroke="#ff0a0a" stroke-width="2.2" stroke-linejoin="round"/><line x1="659" y1="491.7" x2="659" y2="507.7" stroke="#0a6e1e" stroke-width="2.2"/><line x1="588.5" y1="333.5" x2="588.5" y2="573.3" stroke="#000" stroke-width="2"/><line x1="580.5" y1="532.8" x2="947.2" y2="532.8" stroke="#000" stroke-width="2"/><line x1="580.5" y1="572.3" x2="588.5" y2="572.3" stroke="#000" stroke-width="2"/><text x="545.5" y="577.9" font-size="18.9" font-weight="bold" textLength="33.7" lengthAdjust="spacingAndGlyphs">-100</text><line x1="580.5" y1="532.8" x2="588.5" y2="532.8" stroke="#000" stroke-width="2"/><text x="569.8" y="538.4" font-size="18.9" font-weight="bold" textLength="9.4" lengthAdjust="spacingAndGlyphs">0</text><line x1="580.5" y1="493.1" x2="588.5" y2="493.1" stroke="#000" stroke-width="2"/><text x="551.1" y="498.7" font-size="18.9" font-weight="bold" textLength="28.1" lengthAdjust="spacingAndGlyphs">100</text><line x1="580.5" y1="453.5" x2="588.5" y2="453.5" stroke="#000" stroke-width="2"/><text x="551.1" y="459.1" font-size="18.9" font-weight="bold" textLength="28.1" lengthAdjust="spacingAndGlyphs">200</text><line x1="580.5" y1="413.8" x2="588.5" y2="413.8" stroke="#000" stroke-width="2"/><text x="551.1" y="419.4" font-size="18.9" font-weight="bold" textLength="28.1" lengthAdjust="spacingAndGlyphs">300</text><line x1="580.5" y1="374.2" x2="588.5" y2="374.2" stroke="#000" stroke-width="2"/><text x="551.1" y="379.8" font-size="18.9" font-weight="bold" textLength="28.1" lengthAdjust="spacingAndGlyphs">400</text><line x1="580.5" y1="334.5" x2="588.5" y2="334.5" stroke="#000" stroke-width="2"/><text x="551.1" y="340.1" font-size="18.9" font-weight="bold" textLength="28.1" lengthAdjust="spacingAndGlyphs">500</text><line x1="648.2" y1="532.8" x2="648.2" y2="540.8" stroke="#000" stroke-width="2"/><text x="634.2" y="558.4" font-size="18.9" font-weight="bold" textLength="28.1" lengthAdjust="spacingAndGlyphs">350</text><line x1="722.7" y1="532.8" x2="722.7" y2="540.8" stroke="#000" stroke-width="2"/><text x="708.7" y="558.4" font-size="18.9" font-weight="bold" textLength="28.1" lengthAdjust="spacingAndGlyphs">400</text><line x1="797.3" y1="532.8" x2="797.3" y2="540.8" stroke="#000" stroke-width="2"/><text x="783.3" y="558.4" font-size="18.9" font-weight="bold" textLength="28.1" lengthAdjust="spacingAndGlyphs">450</text><line x1="871.8" y1="532.8" x2="871.8" y2="540.8" stroke="#000" stroke-width="2"/><text x="857.8" y="558.4" font-size="18.9" font-weight="bold" textLength="28.1" lengthAdjust="spacingAndGlyphs">500</text><line x1="946.2" y1="532.8" x2="946.2" y2="540.8" stroke="#000" stroke-width="2"/><text x="932.2" y="558.4" font-size="18.9" font-weight="bold" textLength="28.1" lengthAdjust="spacingAndGlyphs">550</text><text transform="translate(527.6 558.1) rotate(-90)" x="0" y="0" font-size="18.5" font-weight="bold" textLength="207.9" lengthAdjust="spacing">Fluorescence Intensity</text><text x="688" y="584.6" font-size="18.5" font-weight="bold" textLength="156.9" lengthAdjust="spacing">Wavelength (nm)</text><text x="823.9" y="350.2" font-size="19" textLength="133.4" lengthAdjust="spacing">d. 25 µM EGCg</text></g>
</svg></body></html>
